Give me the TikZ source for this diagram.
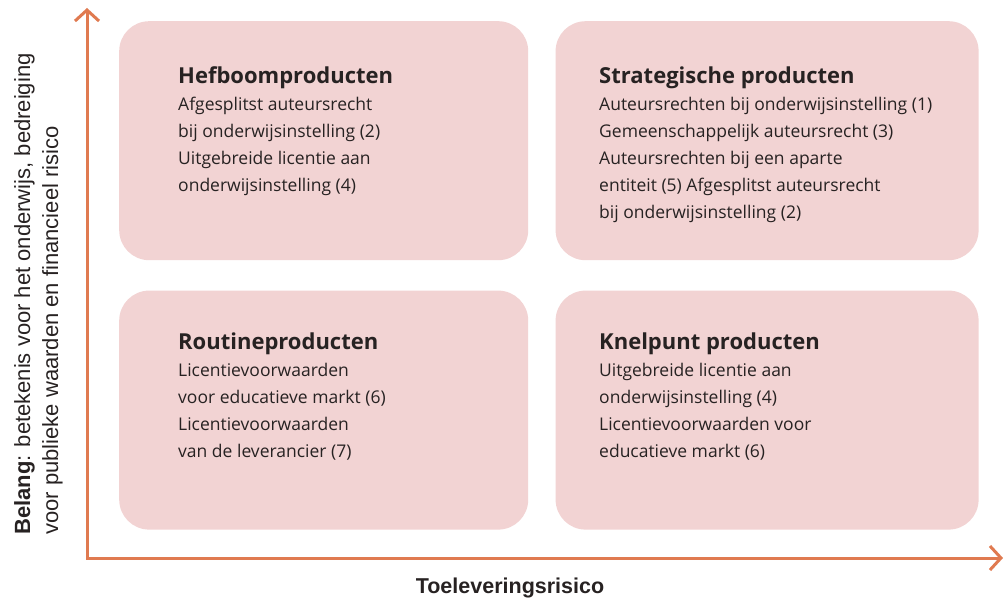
\documentclass[tikz,border=0pt]{standalone}
\usepackage{fontspec}
\setmainfont{Open Sans}
\newfontfamily\axisfont{Liberation Sans}
\usepackage{tikz}
\usetikzlibrary{arrows.meta, positioning}

\definecolor{quadfill}{HTML}{F2D3D3}
\definecolor{axisorange}{HTML}{E07A50}
\definecolor{inktext}{HTML}{272222}
\newcommand{\quadtitle}[1]{{\bfseries\fontsize{22pt}{27pt}\selectfont #1}}

\begin{document}
\begin{tikzpicture}[
    x=1pt, y=-1pt,
    quad/.style={fill=quadfill, rounded corners=30pt, anchor=north west, minimum height=239pt, inner sep=0},
    body/.style={anchor=north west, align=left, inner sep=0, text=inktext, font=\fontsize{17.5pt}{27pt}\selectfont},
    axis/.style={draw=axisorange, line width=3pt, {Straight Barb[length=11pt, width=24pt]}-{Straight Barb[length=11pt, width=24pt]}},
    axislabel/.style={inner sep=0, text=inktext, font=\axisfont\fontsize{22pt}{28pt}\selectfont}
]
\useasboundingbox (0,0) rectangle (1003,601);

% Quadrants
\node[quad, minimum width=409pt] (hefboom) at (119,21) {};
\node[quad, minimum width=423pt, right=27pt of hefboom] (strategisch) {};
\node[quad, minimum width=409pt, below=30pt of hefboom] (routine) {};
\node[quad, minimum width=423pt, below=30pt of strategisch] (knelpunt) {};

% Texts
\node[body] (hefboomtxt) at (178,66.5) {\quadtitle{Hefboomproducten}\\
    Afgesplitst auteursrecht\\ bij onderwijsinstelling (2)\\
    Uitgebreide licentie aan\\ onderwijsinstelling (4)};
\node[body] (strategischtxt) at (599,66.5) {\quadtitle{Strategische producten}\\
    Auteursrechten bij onderwijsinstelling (1)\\
    Gemeenschappelijk auteursrecht (3)\\
    Auteursrechten bij een aparte\\
    entiteit (5) Afgesplitst auteursrecht\\
    bij onderwijsinstelling (2)};
\node[body] (routinetxt) at (178,332.5) {\quadtitle{Routineproducten}\\
    Licentievoorwaarden\\ voor educatieve markt (6)\\
    Licentievoorwaarden\\ van de leverancier (7)};
\node[body] (knelpunttxt) at (599,332.5) {\quadtitle{Knelpunt producten}\\
    Uitgebreide licentie aan\\ onderwijsinstelling (4)\\
    Licentievoorwaarden voor\\ educatieve markt (6)};

% Axes
\coordinate (origin) at (87,558);
\coordinate (ytop) at (87,8);
\coordinate (xend) at (1003,558);
\draw[axis] (ytop) -- (origin) -- (xend);

\node[axislabel, rotate=90, anchor=north west, align=left] (belang) at (14,535)
    {\textbf{Belang}: betekenis voor het onderwijs, bedreiging\\ voor publieke waarden en financieel risico};
\node[axislabel, font=\axisfont\bfseries\fontsize{21.5pt}{24pt}\selectfont] (risico) at (510,588) {Toeleveringsrisico};

\end{tikzpicture}
\end{document}
